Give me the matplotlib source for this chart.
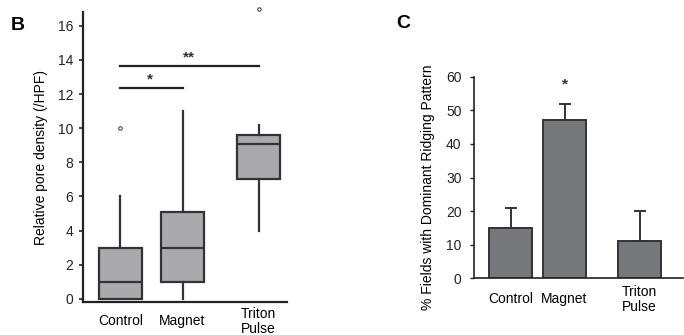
import numpy as np
import matplotlib.pyplot as plt

plt.rcParams['font.family'] = ['Liberation Sans', 'DejaVu Sans']

# panel B: box plot summary values
groups = ['Control', 'Magnet', 'Triton\nPulse']
q1 = [0, 1, 7]
med = [1, 3, 9.1]
q3 = [3, 5.1, 9.6]
wlo = [0, 0, 4]
whi = [6, 11, 10.2]
fliers = [[10], [], [17]]

# panel C: bar chart
pct = [15, 47, 11]
pct_err = [6, 5, 9]

fig = plt.figure(figsize=(6.84, 3.35), dpi=100)
dark = '#333333'
fs = 10

# ---- B ----
axb = fig.add_axes([0.1213, 0.0985, 0.2983, 0.8655])
stats = [dict(med=m, q1=a, q3=b, whislo=lo, whishi=hi, fliers=f, label=g)
         for g, a, m, b, lo, hi, f in zip(groups, q1, med, q3, wlo, whi, fliers)]
posb = [0, 1, 2.226]
axb.bxp(stats, positions=posb, widths=0.694, patch_artist=True, showcaps=False,
        boxprops=dict(facecolor='#aaaaae', edgecolor=dark, linewidth=1.6),
        medianprops=dict(color=dark, linewidth=1.6),
        whiskerprops=dict(color=dark, linewidth=1.6),
        flierprops=dict(marker='o', markersize=2.5, markerfacecolor='white',
                        markeredgecolor=dark, markeredgewidth=0.7, clip_on=False))
axb.set_xlim(-0.605, 2.685)
axb.set_ylim(-0.18, 16.8)
axb.set_yticks(range(0, 17, 2))
axb.tick_params(axis='y', labelsize=fs, length=3, width=1.2, pad=4, colors='#222222')
axb.tick_params(axis='x', length=0, labelsize=fs, pad=14)
axb.set_xticks(posb)
axb.set_xticklabels(groups, va='center', linespacing=1.15)
for s in ['top', 'right']:
    axb.spines[s].set_visible(False)
for s in ['left', 'bottom']:
    axb.spines[s].set_linewidth(1.6)
    axb.spines[s].set_color('#222222')
axb.set_ylabel('Relative pore density (/HPF)', fontsize=fs)
axb.yaxis.set_label_coords(-0.172, 0.5)
# significance bars
axb.plot([0, 2.226], [13.64, 13.64], color='#222222', lw=1.6)
axb.plot([0, 1.0], [12.36, 12.36], color='#222222', lw=1.6)
axb.text(1.1, 13.75, '**', ha='center', va='bottom', fontsize=11, fontweight='bold', color='#333333')
axb.text(0.48, 12.45, '*', ha='center', va='bottom', fontsize=11, fontweight='bold', color='#333333')
fig.text(0.026, 0.925, 'B', fontsize=14, fontweight='bold', ha='center', va='center')

# ---- C ----
axc = fig.add_axes([0.693, 0.169, 0.3055, 0.602])
posc = [0, 1, 2.389]
axc.bar(posc, pct, width=0.796, color='#76777b', edgecolor=dark, linewidth=1.4, zorder=2)
axc.errorbar(posc, pct, yerr=[np.zeros(3), pct_err], fmt='none', ecolor=dark,
             elinewidth=1.4, capsize=4, capthick=1.4, zorder=1)
axc.set_xlim(-0.676, 3.194)
axc.set_ylim(0, 60)
axc.set_yticks(range(0, 61, 10))
axc.tick_params(axis='y', labelsize=fs, length=3, width=1.0, pad=6, colors='#222222')
axc.tick_params(axis='x', length=0, labelsize=fs, pad=15)
axc.set_xticks(posc)
axc.set_xticklabels(['Control', 'Magnet', 'Triton\nPulse'], va='center', linespacing=1.1)
for s in ['top', 'right']:
    axc.spines[s].set_visible(False)
for s in ['left', 'bottom']:
    axc.spines[s].set_linewidth(1.2)
    axc.spines[s].set_color('#222222')
axc.set_ylabel('% Fields with Dominant Ridging Pattern', fontsize=fs)
axc.yaxis.set_label_coords(-0.188, 0.45)
axc.text(1, 55.5, '*', ha='center', va='bottom', fontsize=11, fontweight='bold', color='#333333')
fig.text(0.589, 0.93, 'C', fontsize=14, fontweight='bold', ha='center', va='center')

fig.savefig('out.png', dpi=100)
